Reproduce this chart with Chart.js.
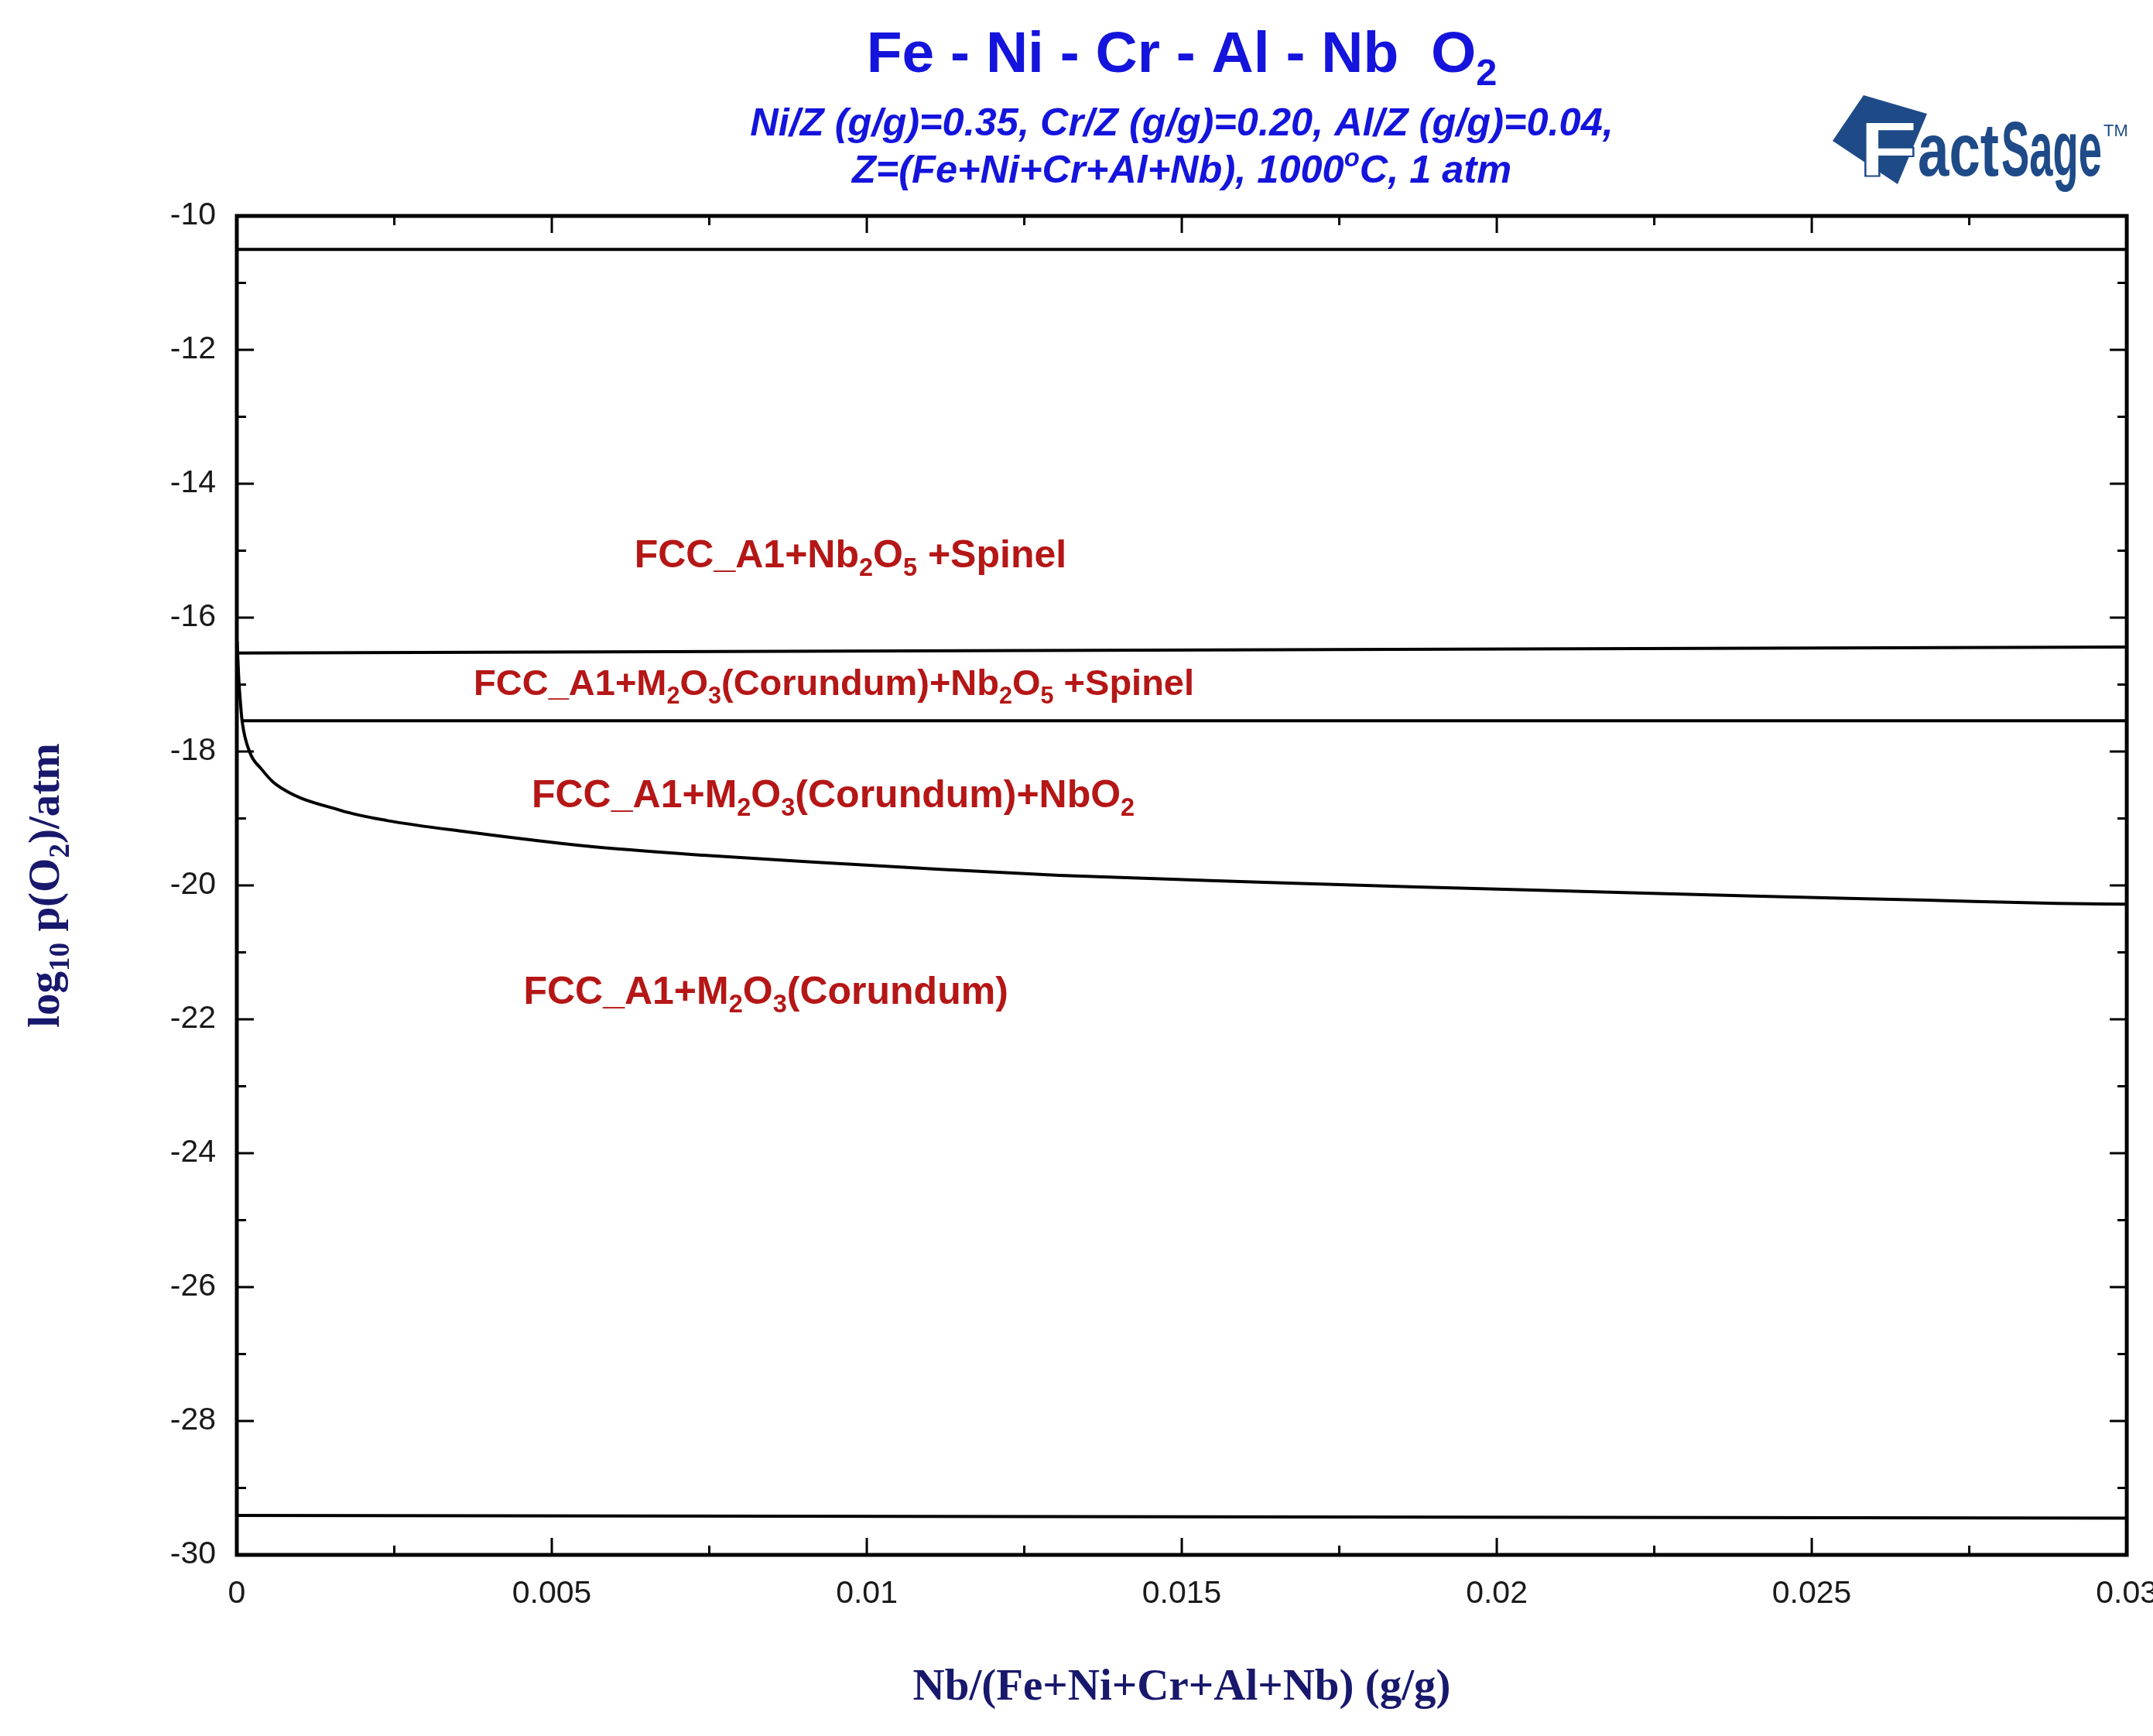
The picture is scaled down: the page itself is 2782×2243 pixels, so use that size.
<!DOCTYPE html>
<html><head><meta charset="utf-8">
<script src="https://cdn.jsdelivr.net/npm/chart.js@4.4.1/dist/chart.umd.min.js"></script>
<style>html,body{margin:0;padding:0;overflow:hidden;background:#fff}canvas{display:block}</style>
</head><body>
<canvas id="c" width="2814" height="2243"></canvas>
<script>
// ---------------- data ----------------
const xMin = 0, xMax = 0.03, xStep = 0.005;
const yMin = -30, yMax = -10, yStep = 2;

// Fe-Ni-Cr-Al-Nb / O2 phase boundaries
const boundTopX = [0, 0.03];
const boundTopY = [-10.5, -10.5];

const boundUpperX = [0.00001, 0.03];
const boundUpperY = [-16.53, -16.44];

const boundMiddleX = [0.00008, 0.03];
const boundMiddleY = [-17.54, -17.54];

const curveX = [0.000005, 0.00003, 0.00006, 0.000086, 0.00021, 0.00038, 0.00062, 0.00165, 0.00238, 0.00365, 0.00553, 0.00741, 0.00929, 0.01117, 0.01305, 0.01493, 0.0165, 0.01862, 0.02135, 0.02408, 0.02681, 0.0289, 0.03];
const curveY = [-16.35, -16.9, -17.3, -17.56, -18.02, -18.25, -18.49, -18.88, -19.03, -19.20, -19.41, -19.55, -19.66, -19.76, -19.85, -19.91, -19.96, -20.02, -20.09, -20.16, -20.22, -20.27, -20.28];

const boundBottomX = [0, 0.03];
const boundBottomY = [-29.41, -29.45];

// region labels: [text, kind]  kind 0 = normal, 1 = subscript, 2 = superscript
const regionTexts = [
  [["FCC_A1+Nb",0],["2",1],["O",0],["5",1],[" +Spinel",0]],
  [["FCC_A1+M",0],["2",1],["O",0],["3",1],["(Corundum)+Nb",0],["2",1],["O",0],["5",1],[" +Spinel",0]],
  [["FCC_A1+M",0],["2",1],["O",0],["3",1],["(Corundum)+NbO",0],["2",1]],
  [["FCC_A1+M",0],["2",1],["O",0],["3",1],["(Corundum)",0]]
];
const regionAnchorX = [0.00631, 0.00376, 0.00468, 0.00455];
const regionAnchorY = [-15.25, -17.16, -18.83, -21.77];
const regionFontSize = [50, 47, 50, 50];

const titleText = [["Fe - Ni - Cr - Al - Nb  O",0],["2",1]];
const subtitle1 = [["Ni/Z (g/g)=0.35, Cr/Z (g/g)=0.20, Al/Z (g/g)=0.04,",0]];
const subtitle2 = [["Z=(Fe+Ni+Cr+Al+Nb), 1000",0],["o",2],["C, 1 atm",0]];
const xTitle = [["Nb/(Fe+Ni+Cr+Al+Nb) (g/g)",0]];
const yTitle = [["log",0],["10",1],[" p(O",0],["2",1],[")/atm",0]];

// ---------------- styles ----------------
const SANS = '"Liberation Sans", Arial, Helvetica, sans-serif';
const SERIF = '"Liberation Serif", "Times New Roman", serif';
const BLUE = '#1414dc';
const NAVY = '#18186c';
const RED = '#b51616';
const LOGO = '#1e4a88';

function setFont(ctx, style, size, fam){ ctx.font = style + ' ' + size + 'px ' + fam; }
function richWidth(ctx, parts, size, style, fam){
  let w = 0;
  for (const [t,k] of parts){ setFont(ctx, style, k ? size*0.65 : size, fam); w += ctx.measureText(t).width; }
  return w;
}
function drawRich(ctx, parts, x, y, size, style, fam, color, align){
  const w = richWidth(ctx, parts, size, style, fam);
  let cx = align === 'center' ? x - w/2 : x;
  ctx.fillStyle = color; ctx.textBaseline = 'alphabetic'; ctx.textAlign = 'left';
  for (const [t,k] of parts){
    const s = k ? size*0.65 : size;
    setFont(ctx, style, s, fam);
    const dy = k === 1 ? size*0.22 : (k === 2 ? -size*0.42 : 0);
    ctx.fillText(t, cx, y + dy);
    cx += ctx.measureText(t).width;
  }
}
function drawFit(ctx, text, x, y, width, style, size, fam){
  setFont(ctx, style, size, fam);
  const w = ctx.measureText(text).width;
  ctx.save(); ctx.translate(x, y); ctx.scale(width / w, 1); ctx.fillText(text, 0, 0); ctx.restore();
}

function line(ctx,x1,y1,x2,y2){ ctx.beginPath(); ctx.moveTo(x1,y1); ctx.lineTo(x2,y2); ctx.stroke(); }

const decor = {
  id: 'decor',
  beforeDraw(chart){
    const ctx = chart.ctx; ctx.save(); ctx.fillStyle = '#fff'; ctx.fillRect(0,0,chart.width,chart.height); ctx.restore();
  },
  afterDraw(chart){
    const ctx = chart.ctx;
    const xs = chart.scales.x, ys = chart.scales.y;
    const {left, right, top, bottom} = chart.chartArea;
    const cxm = (left + right) / 2;
    ctx.save();
    // frame
    ctx.strokeStyle = '#000'; ctx.lineWidth = 5;
    ctx.strokeRect(left, top, right - left, bottom - top);
    // ticks (inward, all four sides)
    ctx.lineWidth = 3;
    const yt = ys.ticks.map(t => t.value);
    yt.forEach((v, i) => {
      const p = ys.getPixelForValue(v);
      line(ctx, left, p, left + 22, p); line(ctx, right, p, right - 22, p);
      if (i < yt.length - 1) {
        const m = ys.getPixelForValue((v + yt[i+1]) / 2);
        line(ctx, left, m, left + 12, m); line(ctx, right, m, right - 12, m);
      }
    });
    const xt = xs.ticks.map(t => t.value);
    xt.forEach((v, i) => {
      const p = xs.getPixelForValue(v);
      line(ctx, p, bottom, p, bottom - 22); line(ctx, p, top, p, top + 22);
      if (i < xt.length - 1) {
        const m = xs.getPixelForValue((v + xt[i+1]) / 2);
        line(ctx, m, bottom, m, bottom - 12); line(ctx, m, top, m, top + 12);
      }
    });
    // region labels
    regionTexts.forEach((parts, i) => {
      drawRich(ctx, parts, xs.getPixelForValue(regionAnchorX[i]), ys.getPixelForValue(regionAnchorY[i]), regionFontSize[i], 'bold', SANS, RED, 'left');
    });
    // titles
    drawRich(ctx, titleText, cxm, 93, 75, 'bold', SANS, BLUE, 'center');
    drawRich(ctx, subtitle1, cxm, 175, 50.5, 'italic bold', SANS, BLUE, 'center');
    drawRich(ctx, subtitle2, cxm, 236, 50.5, 'italic bold', SANS, BLUE, 'center');
    // axis titles
    drawRich(ctx, xTitle, cxm, 2196, 57, 'bold', SERIF, NAVY, 'center');
    ctx.save();
    ctx.translate(76, (top + bottom) / 2);
    ctx.rotate(-Math.PI / 2);
    drawRich(ctx, yTitle, 0, 0, 57, 'bold', SERIF, NAVY, 'center');
    ctx.restore();
    // FactSage logo
    ctx.fillStyle = LOGO;
    ctx.beginPath(); ctx.moveTo(2368,182); ctx.lineTo(2408,123); ctx.lineTo(2490,147); ctx.lineTo(2452,238); ctx.closePath(); ctx.fill();
    ctx.fillStyle = '#fff'; ctx.strokeStyle = LOGO; ctx.lineWidth = 2;
    ctx.save(); ctx.translate(2402, 227); ctx.scale(1.25, 1);
    setFont(ctx, 'bold', 100, SANS); ctx.fillText('F', 0, 0); ctx.strokeText('F', 0, 0);
    ctx.restore();
    ctx.fillStyle = LOGO;
    drawFit(ctx, 'act', 2478, 227, 105, 'bold', 96, SANS);
    drawFit(ctx, 'Sage', 2586, 227, 130, 'bold', 100, SANS);
    setFont(ctx, '', 22, SANS);
    ctx.fillText('TM', 2718, 176);
    ctx.restore();
  }
};

function ds(xa, ya, smooth){
  return {
    data: xa.map((x, i) => ({x, y: ya[i]})),
    showLine: true, pointRadius: 0, borderColor: '#000', borderWidth: 4, fill: false,
    cubicInterpolationMode: smooth ? 'monotone' : 'default', tension: 0
  };
}

new Chart(document.getElementById('c').getContext('2d'), {
  type: 'scatter',
  data: { datasets: [
    ds(boundTopX, boundTopY, false),
    ds(boundUpperX, boundUpperY, false),
    ds(boundMiddleX, boundMiddleY, false),
    ds(curveX, curveY, true),
    ds(boundBottomX, boundBottomY, false)
  ]},
  options: {
    responsive: false, animation: false, devicePixelRatio: 1,
    layout: { padding: { top: 279, right: 0, left: 0, bottom: 0 } },
    plugins: { legend: { display: false }, tooltip: { enabled: false }, title: { display: false } },
    scales: {
      x: {
        type: 'linear', min: xMin, max: xMax,
        grid: { display: false, drawTicks: false }, border: { display: false },
        ticks: { stepSize: xStep, padding: 26, color: '#1a1a1a', maxRotation: 0, autoSkip: false,
                 font: { family: SANS, size: 41 },
                 callback: v => String(Number(v.toFixed(4))) },
        afterFit: s => { s.height = 234; }
      },
      y: {
        type: 'linear', min: yMin, max: yMax,
        grid: { display: false, drawTicks: false }, border: { display: false },
        ticks: { stepSize: yStep, padding: 27, color: '#1a1a1a', font: { family: SANS, size: 41 },
                 callback: v => String(Math.round(v)) },
        afterFit: s => { s.width = 306; }
      }
    }
  },
  plugins: [decor]
});
</script>
</body></html>
